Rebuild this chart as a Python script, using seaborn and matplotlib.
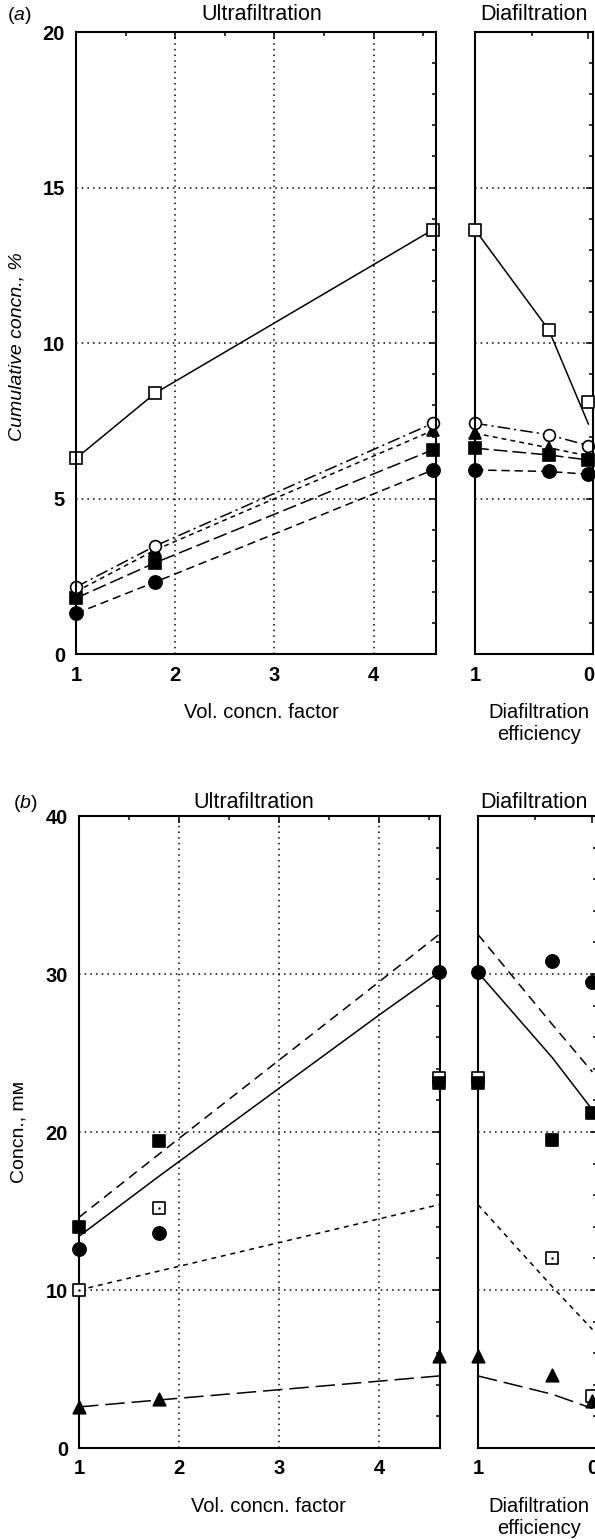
import matplotlib
matplotlib.use("Agg")
import matplotlib.pyplot as plt
import seaborn as sns
import pandas as pd
from matplotlib.ticker import FixedLocator, MultipleLocator, NullFormatter

# ---------------- data ----------------
vcf = [1.0, 1.8, 4.6]            # Vol. concn. factor (ultrafiltration)
eff = [1.0, 0.35, 0.0]           # Diafiltration efficiency
model_vcf = [1.0, 1.8, 4.0, 4.6]

# panel (a): cumulative concn., %
a_uf_open_sq = [6.3, 8.4, 13.65]
a_uf_open_circ = [2.17, 3.49, 7.43]
a_uf_tri = [2.02, 3.36, 7.2]
a_uf_fill_sq = [1.81, 2.95, 6.58]
a_uf_fill_circ = [1.32, 2.33, 5.93]

a_df_open_sq = [13.65, 10.43, 8.1]
a_df_open_sq_line = [13.65, 10.43, 7.4]
a_df_open_circ = [7.43, 7.06, 6.71]
a_df_tri = [7.11, 6.64, 6.38]
a_df_fill_sq = [6.63, 6.41, 6.25]
a_df_fill_circ = [5.93, 5.88, 5.79]

# panel (b): concn., mM (points = measured, lines = model)
b_uf_fill_circ = [12.6, 13.6, 30.1]
b_uf_fill_sq = [14.0, 19.4, 23.1]
b_uf_open_sq = [10.0, 15.2, 23.4]
b_uf_tri = [2.6, 3.1, 5.8]
b_uf_dashed = [14.6, 18.6, 29.5, 32.5]
b_uf_solid = [13.4, 17.2, 27.4, 30.1]
b_uf_short = [10.0, 11.2, 14.5, 15.4]
b_uf_long = [2.6, 3.04, 4.23, 4.56]

b_df_fill_circ = [30.1, 30.8, 29.5]
b_df_fill_sq = [23.1, 19.5, 21.2]
b_df_open_sq = [23.4, 12.0, 3.3]
b_df_tri = [5.8, 4.6, 3.0]
b_df_dashed = [32.5, 26.8, 23.8]
b_df_solid = [30.1, 24.7, 21.4]
b_df_short = [15.4, 10.2, 7.5]
b_df_long = [4.56, 3.4, 2.5]

uf_ticks = [1, 2, 3, 4]
df_ticks = [1, 0]

# ---------------- style ----------------
sns.set_theme(style="white")
plt.rcParams["font.family"] = ["Liberation Sans", "DejaVu Sans"]
plt.rcParams["mathtext.fontset"] = "custom"
plt.rcParams["mathtext.it"] = "Liberation Sans:italic"
plt.rcParams["mathtext.rm"] = "Liberation Sans"
plt.rcParams["lines.scale_dashes"] = False

W, H = 595, 1539
fig = plt.figure(figsize=(W / 100, H / 100), dpi=100)
fig.patch.set_facecolor("white")


def rect(l, r, t, b):
    return [l / W, 1 - b / H, (r - l) / W, (b - t) / H]


LW = 1.1
MEW = 1.2
GRID = dict(color="black", linestyle=(0, (1.1, 3.0)), linewidth=1.1)


def style_axes(ax, ymax, ymajor, yminor, xticks, xminor, xlim, vgrid, ylabels):
    ax.set_facecolor("white")
    ax.set_xlim(*xlim)
    ax.set_ylim(0, ymax)
    ax.xaxis.set_major_locator(FixedLocator(xticks))
    ax.xaxis.set_minor_locator(FixedLocator(xminor))
    ax.yaxis.set_major_locator(MultipleLocator(ymajor))
    ax.yaxis.set_minor_locator(MultipleLocator(yminor))
    ax.set_xticklabels([str(t) for t in xticks])
    if not ylabels:
        ax.yaxis.set_major_formatter(NullFormatter())
    for s in ax.spines.values():
        s.set_color("black")
        s.set_linewidth(1.5)
        s.set_visible(True)
    ax.tick_params(which="both", direction="in", top=True, right=True,
                   colors="black", width=1.1)
    ax.tick_params(which="major", length=5, labelsize=14.5, pad=8)
    ax.tick_params(which="minor", length=3)
    for lab in ax.get_xticklabels() + ax.get_yticklabels():
        lab.set_fontweight("bold")
    ax.grid(False)
    ax.set_axisbelow(True)
    if vgrid:
        for t in xticks:
            if t != xlim[0]:
                ax.axvline(t, zorder=0, **GRID)
    for v in range(ymajor, ymax, ymajor):
        ax.axhline(v, zorder=0, **GRID)
    ax.set_xlabel("")
    ax.set_ylabel("")


def line(ax, x, y, ls, marker=None, filled=True, ms=9):
    kws = dict(x=x, y=y, ax=ax, color="black", linewidth=LW, linestyle=ls,
               sort=False, estimator=None, legend=False, clip_on=False)
    if marker is not None:
        kws.update(marker=marker, markersize=ms,
                   markerfacecolor="black" if filled else "white",
                   markeredgecolor="black", markeredgewidth=MEW)
    sns.lineplot(**kws)


def points(ax, x, y, marker, filled=True, ms=9, dot=False):
    sns.scatterplot(x=x, y=y, ax=ax, marker=marker, s=ms ** 2,
                    facecolor="black" if filled else "white",
                    edgecolor="black", linewidth=MEW, clip_on=False,
                    legend=False, zorder=5)
    if dot:
        sns.scatterplot(x=x, y=y, ax=ax, marker="o", s=3, color="black",
                        linewidth=0, clip_on=False, legend=False, zorder=6)


DASHDOT = (0, (9, 3, 1.5, 3))
SHORT = (0, (3.5, 3))
LONG = (0, (10, 3.5))
MED = (0, (6, 3.5))

# ---------------- panel (a) ----------------
axA1 = fig.add_axes(rect(76, 436, 32, 654.5))
axA2 = fig.add_axes(rect(475, 593, 32, 654.5))
style_axes(axA1, 20, 5, 1, uf_ticks, [1.5, 2.5, 3.5, 4.5], (1, 4.63), True, True)
style_axes(axA2, 20, 5, 1, df_ticks, [0.5], (1, -0.04), False, False)

line(axA1, vcf, a_uf_open_sq, "-", "s", filled=False, ms=9)
line(axA1, vcf, a_uf_fill_circ, MED, "o", ms=9.5)
line(axA1, vcf, a_uf_fill_sq, LONG, "s", ms=8.5)
line(axA1, vcf, a_uf_tri, SHORT, "^", ms=9)
line(axA1, vcf, a_uf_open_circ, DASHDOT, "o", filled=False, ms=8.5)

line(axA2, eff, a_df_open_sq_line, "-")
points(axA2, eff, a_df_open_sq, "s", filled=False, ms=9)
line(axA2, eff, a_df_fill_circ, MED, "o", ms=9.5)
line(axA2, eff, a_df_fill_sq, LONG, "s", ms=8.5)
line(axA2, eff, a_df_tri, SHORT, "^", ms=9)
line(axA2, eff, a_df_open_circ, DASHDOT, "o", filled=False, ms=8.5)

# ---------------- panel (b) ----------------
axB1 = fig.add_axes(rect(79, 440, 816, 1448))
axB2 = fig.add_axes(rect(478, 597, 816, 1448))
style_axes(axB1, 40, 10, 2, uf_ticks, [1.5, 2.5, 3.5, 4.5], (1, 4.61), True, True)
style_axes(axB2, 40, 10, 2, df_ticks, [0.5], (1, -0.04), False, False)

B_DASH = (0, (7, 4.5))
B_SHORT = (0, (3.5, 3.5))
B_LONG = (0, (14, 5))

line(axB1, model_vcf, b_uf_dashed, B_DASH)
line(axB1, model_vcf, b_uf_solid, "-")
line(axB1, model_vcf, b_uf_short, B_SHORT)
line(axB1, model_vcf, b_uf_long, B_LONG)
points(axB1, vcf, b_uf_open_sq, "s", filled=False, ms=9, dot=True)
points(axB1, vcf, b_uf_fill_sq, "s", ms=8.5)
points(axB1, vcf, b_uf_fill_circ, "o", ms=9.5)
points(axB1, vcf, b_uf_tri, "^", ms=9)

line(axB2, eff, b_df_dashed, B_DASH)
line(axB2, eff, b_df_solid, "-")
line(axB2, eff, b_df_short, B_SHORT)
line(axB2, eff, b_df_long, B_LONG)
points(axB2, eff, b_df_open_sq, "s", filled=False, ms=9, dot=True)
points(axB2, eff, b_df_fill_sq, "s", ms=8.5)
points(axB2, eff, b_df_fill_circ, "o", ms=9.5)
points(axB2, eff, b_df_tri, "^", ms=9)

# ---------------- texts ----------------
def ftext(x, y, s, **kw):
    kw.setdefault("ha", "center")
    kw.setdefault("va", "center")
    kw.setdefault("color", "black")
    fig.text(x / W, 1 - y / H, s, **kw)


ftext(19, 15, r"($\mathit{a}$)", fontsize=14)
ftext(262, 15, "Ultrafiltration", fontsize=15.5)
ftext(534, 15, "Diafiltration", fontsize=15.5)
ftext(17, 347, "Cumulative concn., %", fontsize=14, rotation=90, style="italic")
ftext(261, 713, "Vol. concn. factor", fontsize=14.5)
ftext(539, 723, "Diafiltration\nefficiency", fontsize=14.5, linespacing=1.2)

ftext(25, 803, r"($\mathit{b}$)", fontsize=14)
ftext(254, 803, "Ultrafiltration", fontsize=15.5)
ftext(534, 803, "Diafiltration", fontsize=15.5)
ftext(19, 1132, "Concn., mм", fontsize=14, rotation=90)
ftext(268, 1507, "Vol. concn. factor", fontsize=14.5)
ftext(539, 1518, "Diafiltration\nefficiency", fontsize=14.5, linespacing=1.2)

fig.savefig("out.png", dpi=100, facecolor="white")
